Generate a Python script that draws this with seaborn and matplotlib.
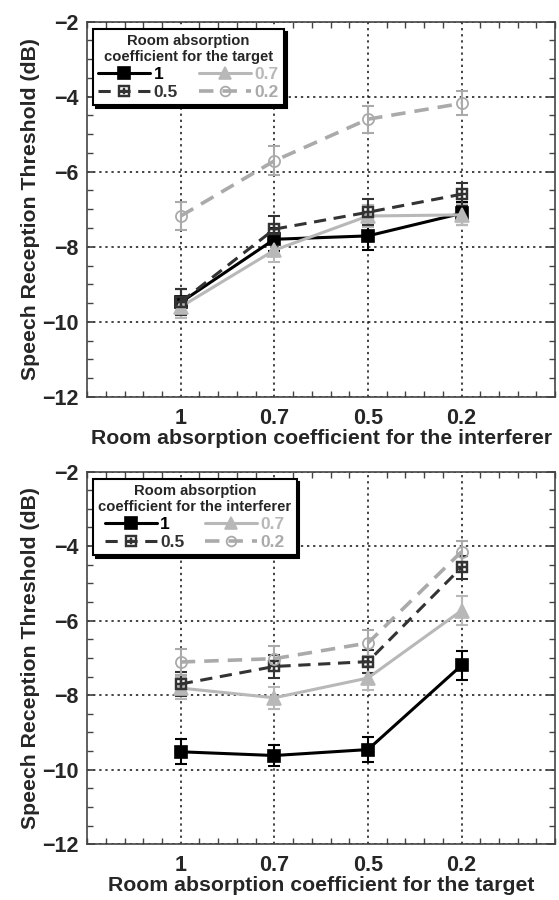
import numpy as np
import pandas as pd
import matplotlib
matplotlib.use("Agg")
import matplotlib.pyplot as plt
from matplotlib.ticker import MultipleLocator
from matplotlib.lines import Line2D
import seaborn as sns

# DATA
CATEGORIES = ["1", "0.7", "0.5", "0.2"]
SERIES = ["1", "0.7", "0.5", "0.2"]

# top: x = interferer coefficient, series = target coefficient
top_1 = [-9.48, -7.80, -7.71, -7.11]
top_07 = [-9.60, -8.09, -7.18, -7.15]
top_05 = [-9.47, -7.53, -7.08, -6.60]
top_02 = [-7.18, -5.71, -4.60, -4.18]
top_err_1 = [0.35, 0.30, 0.38, 0.30]
top_err_07 = [0.30, 0.32, 0.30, 0.28]
top_err_05 = [0.35, 0.35, 0.34, 0.31]
top_err_02 = [0.38, 0.39, 0.36, 0.32]

# bottom: x = target coefficient, series = interferer coefficient
bot_1 = [-9.52, -9.62, -9.46, -7.20]
bot_07 = [-7.81, -8.07, -7.54, -5.73]
bot_05 = [-7.70, -7.23, -7.10, -4.57]
bot_02 = [-7.11, -7.02, -6.60, -4.15]
bot_err_1 = [0.33, 0.28, 0.34, 0.38]
bot_err_07 = [0.30, 0.30, 0.32, 0.38]
bot_err_05 = [0.32, 0.30, 0.30, 0.30]
bot_err_02 = [0.36, 0.34, 0.35, 0.30]

# STYLE per series
STYLES = {
    "1":   dict(color="#000000", ls="-",  marker="s", ms=9, mfc="#000000", mew=1.2, lw=2.2),
    "0.7": dict(color="#b8b8b8", ls="-",  marker="^", ms=10, mfc="#b8b8b8", mew=1.2, lw=2.2),
    "0.5": dict(color="#333333", ls=(0, (4, 2.5)), marker=r"$\boxplus$", ms=9, mfc="#333333", mew=0.3, lw=2.2),
    "0.2": dict(color="#aaaaaa", ls=(0, (4, 2.5)), marker="o", ms=8, mfc="none", mew=1.3, lw=2.6),
}

sns.set_theme(style="ticks")
plt.rcParams["font.family"] = ["Liberation Sans", "DejaVu Sans"]
plt.rcParams["font.weight"] = "bold"

fig = plt.figure(figsize=(5.59, 9.0), dpi=100)
ax_top = fig.add_axes([0.156, 0.559, 0.837, 0.417])
ax_bot = fig.add_axes([0.156, 0.062, 0.837, 0.414])


def draw_panel(ax, values, errors, xlabel, legend_title):
    xpos = np.arange(1, len(CATEGORIES) + 1)
    for name in SERIES:
        st = STYLES[name]
        df = pd.DataFrame({"x": xpos, "y": values[name]})
        ax.errorbar(df["x"], df["y"], yerr=errors[name], fmt="none",
                    ecolor=st["color"], elinewidth=1.5, capsize=4, capthick=1.5, zorder=2)
        sns.lineplot(data=df, x="x", y="y", ax=ax, color=st["color"], linestyle=st["ls"],
                     linewidth=st["lw"], marker=st["marker"], markersize=st["ms"],
                     markerfacecolor=st["mfc"], markeredgecolor=st["color"],
                     markeredgewidth=st["mew"], zorder=3)

    ax.set_xlim(0, 5)
    ax.set_ylim(-12, -2)
    ax.set_xticks(xpos)
    ax.set_xticklabels(CATEGORIES)
    ax.xaxis.set_minor_locator(MultipleLocator(0.2))
    ax.yaxis.set_major_locator(MultipleLocator(2))
    ax.yaxis.set_minor_locator(MultipleLocator(0.5))
    ax.tick_params(which="both", direction="in", top=True, right=True, color="#444444")
    ax.tick_params(which="major", length=6, labelsize=15.5, pad=6)
    ax.tick_params(which="minor", length=4)
    ax.tick_params(axis="x", which="major", length=0, pad=8)
    for lab in ax.get_xticklabels() + ax.get_yticklabels():
        lab.set_fontweight("bold")
    ax.grid(True, which="major", color="#111111", linestyle=(0, (1.5, 2.5)), linewidth=1.1)
    for sp in ax.spines.values():
        sp.set_color("#444444")
        sp.set_linewidth(1.2)
    ax.set_xlabel(xlabel, fontsize=15.3, fontweight="bold", labelpad=0)
    ax.set_ylabel("Speech Reception Threshold (dB)", fontsize=15.3, fontweight="bold", labelpad=2)

    handles = {}
    for name in SERIES:
        st = STYLES[name]
        handles[name] = Line2D([], [], color=st["color"], linestyle=st["ls"], linewidth=st["lw"],
                               marker=st["marker"], markersize=st["ms"] - 1,
                               markerfacecolor=st["mfc"], markeredgecolor=st["color"],
                               markeredgewidth=st["mew"])
    order = ["1", "0.5", "0.7", "0.2"]
    leg = ax.legend([handles[n] for n in order], order, title=legend_title, ncol=2,
                    loc="upper left", bbox_to_anchor=(0.005, 0.99), frameon=True, fancybox=False,
                    shadow={"color": "black", "alpha": 1.0}, edgecolor="black",
                    framealpha=1.0, fontsize=12.5, handlelength=3.0, handletextpad=0.2,
                    columnspacing=1.2, labelspacing=0.15, borderpad=0.3, borderaxespad=0.2,
                    title_fontproperties={"weight": "bold", "size": 10.6})
    leg.get_frame().set_linewidth(1.5)
    leg.get_title().set_multialignment("center")
    for txt, name in zip(leg.get_texts(), order):
        txt.set_color(STYLES[name]["color"])
        txt.set_fontweight("bold")
    leg.set_zorder(10)


draw_panel(ax_top,
           {"1": top_1, "0.7": top_07, "0.5": top_05, "0.2": top_02},
           {"1": top_err_1, "0.7": top_err_07, "0.5": top_err_05, "0.2": top_err_02},
           "Room absorption coefficient for the interferer",
           "Room absorption\ncoefficient for the target")
draw_panel(ax_bot,
           {"1": bot_1, "0.7": bot_07, "0.5": bot_05, "0.2": bot_02},
           {"1": bot_err_1, "0.7": bot_err_07, "0.5": bot_err_05, "0.2": bot_err_02},
           "Room absorption coefficient for the target",
           "Room absorption\ncoefficient for the interferer")

fig.savefig("out.png", dpi=100)
